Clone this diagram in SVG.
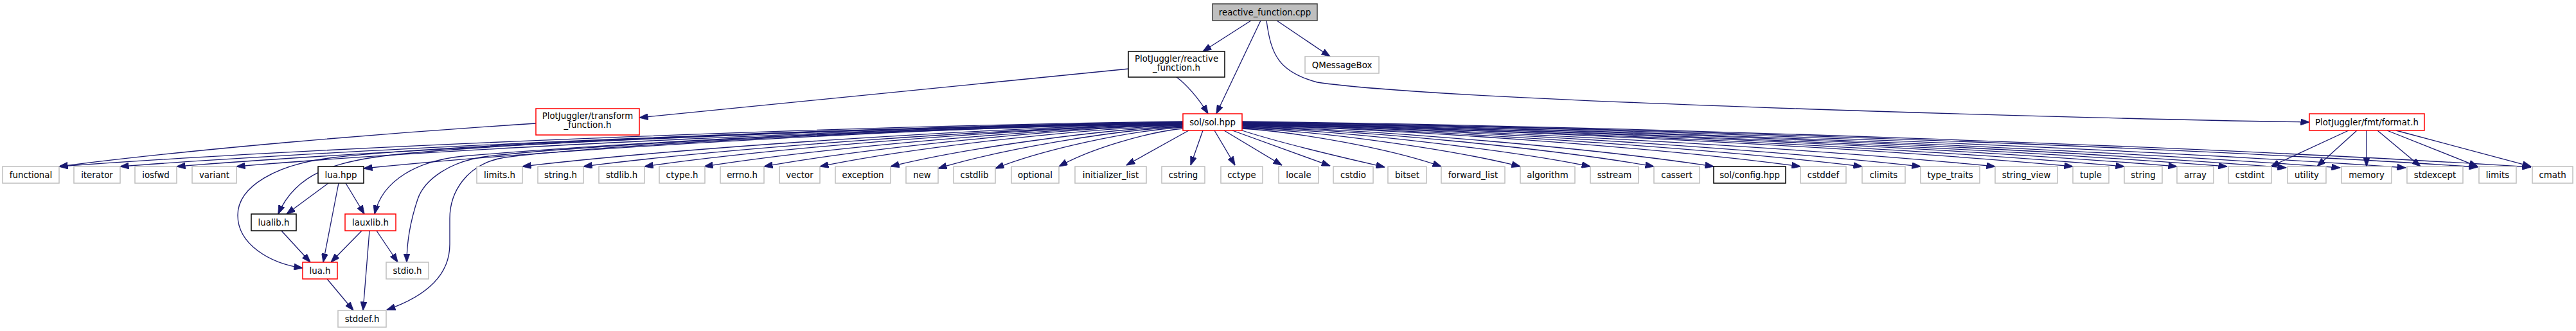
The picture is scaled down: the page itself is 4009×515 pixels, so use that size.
<svg xmlns="http://www.w3.org/2000/svg" width="4009" height="515" viewBox="0 0 4009 515">
<defs>
<marker id="a" markerUnits="userSpaceOnUse" markerWidth="14" markerHeight="10" viewBox="0 0 14 10" refX="13.5" refY="5" orient="auto">
<path d="M0,0 L14,5 L0,10 z" fill="#191970" stroke="#191970" stroke-width="0.8"/>
</marker>
<style>
rect{fill:#ffffff;stroke-width:1.5}
.g rect{stroke:#bfbfbf}
.b rect{stroke:#000000}
.r rect{stroke:#ff0000}
.root rect{fill:#bfbfbf;stroke:#404040}
text{font-family:"DejaVu Sans","Liberation Sans",sans-serif;font-size:13.33px;text-anchor:middle;fill:#000000}
#edges path{fill:none;stroke:#191970;stroke-width:1.3;marker-end:url(#a)}
</style>
</defs>
<rect x="0" y="0" width="4009" height="515" style="fill:#ffffff;stroke:none"/>
<g id="edges">
<path d="M1947,32 L1872,80"/>
<path d="M1962,32 L1893,177"/>
<path d="M1987,32 L2070,88"/>
<path d="M1971,32 C1978,85 1990,112 2050,128 C2250,158 3300,186 3594,190"/>
<path d="M1757,107 L995,183"/>
<path d="M1831,120 C1845,130 1865,152 1880,177"/>
<path d="M834,192 C600,207 300,232 92,259"/>
<path d="M1841,189 C1316,196 529,227 92,259"/>
<path d="M1841,190 C1345,197 600,228 187,259"/>
<path d="M1841,190 C1371,197 666,228 275,259"/>
<path d="M1841,191 C1399,198 736,228 368,259"/>
<path d="M1841,191 C1458,198 885,230 566,262"/>
<path d="M1841,191 C1300,200 800,222 620,240 C520,250 460,270 433,333"/>
<path d="M1841,192 C1300,201 900,228 720,243 C650,250 595,280 583,333"/>
<path d="M1841,191 C1300,199 700,225 520,245 C430,255 370,290 370,335 C370,380 420,410 471,417"/>
<path d="M1841,192 C1300,202 900,228 760,243 C700,250 660,280 650,310 C640,340 633,370 633,408"/>
<path d="M1841,192 C1300,203 900,230 785,245 C725,255 700,300 700,340 L700,380 C700,430 660,462 602,482"/>
<path d="M1841,192 C1533,199 1070,229 813,259"/>
<path d="M1841,193 C1561,200 1141,229 908,259"/>
<path d="M1841,193 C1590,200 1212,229 1003,259"/>
<path d="M1841,194 C1617,200 1282,230 1096,259"/>
<path d="M1841,194 C1645,200 1352,230 1189,259"/>
<path d="M1841,195 C1671,201 1417,230 1276,259"/>
<path d="M1841,196 C1704,202 1500,231 1386,259"/>
<path d="M1841,197 C1727,203 1555,233 1460,262"/>
<path d="M1841,198 C1753,204 1622,233 1549,262"/>
<path d="M1841,200 C1783,206 1696,232 1648,259"/>
<path d="M1850,203 L1753,257"/>
<path d="M1872,203 L1853,257"/>
<path d="M1890,203 L1922,257"/>
<path d="M1905,203 L1995,257"/>
<path d="M1918,203 L2070,258"/>
<path d="M1930,202 C1990,222 2080,243 2155,260"/>
<path d="M1933,200 C2026,206 2166,232 2243,259"/>
<path d="M1933,199 C2063,205 2258,232 2366,259"/>
<path d="M1933,198 C2096,204 2340,232 2475,259"/>
<path d="M1933,197 C2125,203 2414,231 2574,259"/>
<path d="M1933,196 C2153,202 2484,231 2667,259"/>
<path d="M1933,195 C2194,201 2585,230 2802,259"/>
<path d="M1933,195 C2222,201 2657,230 2898,259"/>
<path d="M1933,194 C2250,200 2725,230 2989,259"/>
<path d="M1933,194 C2285,200 2812,230 3105,259"/>
<path d="M1933,193 C2321,200 2903,229 3226,259"/>
<path d="M1933,193 C2345,200 2963,229 3306,259"/>
<path d="M1933,192 C2370,199 3024,229 3388,259"/>
<path d="M1933,192 C2392,199 3080,229 3466,259"/>
<path d="M1933,191 C2420,198 3152,229 3558,261"/>
<path d="M1933,191 C2446,198 3215,229 3642,261"/>
<path d="M1933,190 C2476,197 3291,229 3744,261"/>
<path d="M1933,190 C2510,197 3375,228 3856,260"/>
<path d="M1933,189 C2535,196 3437,228 3939,260"/>
<path d="M3655,203 L3534,259"/>
<path d="M3668,203 L3606,259"/>
<path d="M3683,203 L3683,259"/>
<path d="M3700,203 L3767,259"/>
<path d="M3715,203 L3856,259"/>
<path d="M3729,203 L3939,259"/>
<path d="M511,285 L446,333"/>
<path d="M527,285 L503,408"/>
<path d="M538,285 L567,333"/>
<path d="M438,359 L483,408"/>
<path d="M563,359 L515,408"/>
<path d="M586,359 L619,408"/>
<path d="M575,359 L565,483"/>
<path d="M509,434 L550,483"/>
</g>
<g id="n_reactive_function_cpp" class="root"><rect x="1887" y="6" width="163" height="26"/><text x="1968.5" y="23.5">reactive_function.cpp</text></g>
<g id="n_reactive_function_h" class="b"><rect x="1756" y="80" width="150" height="40"/><text x="1831" y="96">PlotJuggler/reactive</text><text x="1831" y="110">_function.h</text></g>
<g id="n_QMessageBox" class="g"><rect x="2031" y="88" width="115" height="26"/><text x="2088.5" y="105.5">QMessageBox</text></g>
<g id="n_transform_function_h" class="r"><rect x="834" y="169" width="161" height="41"/><text x="914.5" y="185">PlotJuggler/transform</text><text x="914.5" y="199">_function.h</text></g>
<g id="n_sol_hpp" class="r"><rect x="1841" y="177" width="92" height="26"/><text x="1887" y="194.5">sol/sol.hpp</text></g>
<g id="n_fmt_format_h" class="r"><rect x="3594" y="177" width="179" height="26"/><text x="3683.5" y="194.5">PlotJuggler/fmt/format.h</text></g>
<g id="n_functional" class="g"><rect x="4" y="259" width="88" height="26"/><text x="48" y="276.5">functional</text></g>
<g id="n_iterator" class="g"><rect x="115" y="259" width="72" height="26"/><text x="151" y="276.5">iterator</text></g>
<g id="n_iosfwd" class="g"><rect x="210" y="259" width="65" height="26"/><text x="242.5" y="276.5">iosfwd</text></g>
<g id="n_variant" class="g"><rect x="299" y="259" width="69" height="26"/><text x="333.5" y="276.5">variant</text></g>
<g id="n_lua_hpp" class="b"><rect x="495" y="259" width="71" height="26"/><text x="530.5" y="276.5">lua.hpp</text></g>
<g id="n_limits_h" class="g"><rect x="742" y="259" width="71" height="26"/><text x="777.5" y="276.5">limits.h</text></g>
<g id="n_string_h" class="g"><rect x="837" y="259" width="71" height="26"/><text x="872.5" y="276.5">string.h</text></g>
<g id="n_stdlib_h" class="g"><rect x="932" y="259" width="71" height="26"/><text x="967.5" y="276.5">stdlib.h</text></g>
<g id="n_ctype_h" class="g"><rect x="1026" y="259" width="71" height="26"/><text x="1061.5" y="276.5">ctype.h</text></g>
<g id="n_errno_h" class="g"><rect x="1121" y="259" width="68" height="26"/><text x="1155" y="276.5">errno.h</text></g>
<g id="n_vector" class="g"><rect x="1213" y="259" width="63" height="26"/><text x="1244.5" y="276.5">vector</text></g>
<g id="n_exception" class="g"><rect x="1300" y="259" width="86" height="26"/><text x="1343" y="276.5">exception</text></g>
<g id="n_new" class="g"><rect x="1410" y="259" width="50" height="26"/><text x="1435" y="276.5">new</text></g>
<g id="n_cstdlib" class="g"><rect x="1484" y="259" width="65" height="26"/><text x="1516.5" y="276.5">cstdlib</text></g>
<g id="n_optional" class="g"><rect x="1574" y="259" width="74" height="26"/><text x="1611" y="276.5">optional</text></g>
<g id="n_initializer_list" class="g"><rect x="1673" y="259" width="111" height="26"/><text x="1728.5" y="276.5">initializer_list</text></g>
<g id="n_cstring" class="g"><rect x="1808" y="259" width="67" height="26"/><text x="1841.5" y="276.5">cstring</text></g>
<g id="n_cctype" class="g"><rect x="1900" y="259" width="65" height="26"/><text x="1932.5" y="276.5">cctype</text></g>
<g id="n_locale" class="g"><rect x="1990" y="259" width="62" height="26"/><text x="2021" y="276.5">locale</text></g>
<g id="n_cstdio" class="g"><rect x="2075" y="259" width="62" height="26"/><text x="2106" y="276.5">cstdio</text></g>
<g id="n_bitset" class="g"><rect x="2160" y="259" width="60" height="26"/><text x="2190" y="276.5">bitset</text></g>
<g id="n_forward_list" class="g"><rect x="2243" y="259" width="99" height="26"/><text x="2292.5" y="276.5">forward_list</text></g>
<g id="n_algorithm" class="g"><rect x="2366" y="259" width="85" height="26"/><text x="2408.5" y="276.5">algorithm</text></g>
<g id="n_sstream" class="g"><rect x="2475" y="259" width="75" height="26"/><text x="2512.5" y="276.5">sstream</text></g>
<g id="n_cassert" class="g"><rect x="2574" y="259" width="71" height="26"/><text x="2609.5" y="276.5">cassert</text></g>
<g id="n_sol_config_hpp" class="b"><rect x="2667" y="259" width="112" height="26"/><text x="2723" y="276.5">sol/config.hpp</text></g>
<g id="n_cstddef" class="g"><rect x="2802" y="259" width="71" height="26"/><text x="2837.5" y="276.5">cstddef</text></g>
<g id="n_climits" class="g"><rect x="2898" y="259" width="67" height="26"/><text x="2931.5" y="276.5">climits</text></g>
<g id="n_type_traits" class="g"><rect x="2989" y="259" width="92" height="26"/><text x="3035" y="276.5">type_traits</text></g>
<g id="n_string_view" class="g"><rect x="3105" y="259" width="97" height="26"/><text x="3153.5" y="276.5">string_view</text></g>
<g id="n_tuple" class="g"><rect x="3226" y="259" width="56" height="26"/><text x="3254" y="276.5">tuple</text></g>
<g id="n_string" class="g"><rect x="3306" y="259" width="59" height="26"/><text x="3335.5" y="276.5">string</text></g>
<g id="n_array" class="g"><rect x="3388" y="259" width="57" height="26"/><text x="3416.5" y="276.5">array</text></g>
<g id="n_cstdint" class="g"><rect x="3468" y="259" width="67" height="26"/><text x="3501.5" y="276.5">cstdint</text></g>
<g id="n_utility" class="g"><rect x="3560" y="259" width="60" height="26"/><text x="3590" y="276.5">utility</text></g>
<g id="n_memory" class="g"><rect x="3644" y="259" width="78" height="26"/><text x="3683" y="276.5">memory</text></g>
<g id="n_stdexcept" class="g"><rect x="3746" y="259" width="87" height="26"/><text x="3789.5" y="276.5">stdexcept</text></g>
<g id="n_limits" class="g"><rect x="3858" y="259" width="58" height="26"/><text x="3887" y="276.5">limits</text></g>
<g id="n_cmath" class="g"><rect x="3941" y="259" width="63" height="26"/><text x="3972.5" y="276.5">cmath</text></g>
<g id="n_lualib_h" class="b"><rect x="391" y="333" width="70" height="26"/><text x="426" y="350.5">lualib.h</text></g>
<g id="n_lauxlib_h" class="r"><rect x="537" y="333" width="79" height="26"/><text x="576.5" y="350.5">lauxlib.h</text></g>
<g id="n_lua_h" class="r"><rect x="471" y="408" width="54" height="26"/><text x="498" y="425.5">lua.h</text></g>
<g id="n_stdio_h" class="g"><rect x="601" y="408" width="66" height="26"/><text x="634" y="425.5">stdio.h</text></g>
<g id="n_stddef_h" class="g"><rect x="526" y="483" width="75" height="26"/><text x="563.5" y="500.5">stddef.h</text></g>
</svg>
